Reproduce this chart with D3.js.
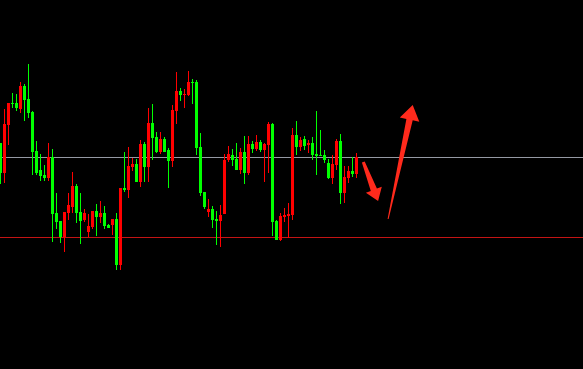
<!DOCTYPE html>
<html>
<head>
<meta charset="utf-8">
<script src="https://cdnjs.cloudflare.com/ajax/libs/d3/7.8.5/d3.min.js"></script>
<style>
    html, body { margin: 0; padding: 0; background: #000; overflow: hidden; }
    svg { display: block; }
</style>
</head>
<body>
<svg id="chart" width="583" height="369"></svg>
<script>
// candle prices (green = falling, red = rising)
var opens  = [226,196,244,266,266,260,283,270,257,218,199,194,191,212,156,148,132,156,162,183,
              157,149,137,142,158,152,156,144,144,150,104,181,179,202,205,187,225,202,246,232,
              217,230,219,208,258,278,274,274,287,287,222,177,157,160,150,148,155,209,214,210,
              199,217,196,225,220,227,219,224,245,148,129,152,153,154,234,222,230,224,226,215,
              214,214,206,191,204,228,176,191,198,195];
var highs  = [226,260,266,276,275,287,285,305,258,228,215,204,226,220,176,148,157,176,197,185,
              176,160,155,158,165,168,163,145,150,156,181,217,222,211,210,229,227,261,265,237,
              237,232,221,264,297,281,280,298,290,289,236,177,170,163,158,164,215,223,220,226,
              221,233,233,228,234,229,226,247,246,149,156,161,166,241,248,232,233,229,232,258,
              239,219,210,214,230,235,203,203,212,216];
var lows   = [185,186,224,261,258,256,248,251,194,194,188,188,188,127,140,126,117,149,156,146,
              125,147,132,140,133,146,140,141,134,99,99,177,171,198,187,182,187,187,209,216,
              215,217,181,202,245,268,261,273,265,214,173,160,152,141,124,122,155,207,203,199,
              195,185,194,216,218,217,187,196,133,129,128,147,131,149,214,218,219,216,209,194,
              213,206,190,185,199,165,166,186,192,191];
var closes = [196,245,266,265,261,283,269,256,217,196,193,191,212,155,147,132,157,164,183,156,
              148,156,143,158,152,156,143,141,150,104,181,179,203,205,187,225,202,246,231,217,
              230,217,208,259,278,274,275,287,286,221,176,162,160,149,148,154,209,215,209,199,
              217,196,225,220,227,219,225,245,147,129,153,154,155,234,222,229,223,226,214,213,
              213,209,191,205,228,176,192,198,195,212];

// horizontal levels
var levels = [212, 132];
var levelColors = ['#9599a3', '#c41414'];

// arrows: [index, price] tail -> tip
var arrows = [
    { from: [90.7, 207], to: [94.4, 168], tail: 3, neck: 6.5, head: 12, half: 8.5 },
    { from: [96.9, 150], to: [103.05, 264], tail: 1, neck: 6.5, head: 15, half: 10 }
];

var width = 583, height = 369;
var upColor = '#ff0000', downColor = '#00ff00';

var svg = d3.select('#chart');
svg.append('rect').attr('width', width).attr('height', height).attr('fill', '#000');

var x = d3.scaleLinear().domain([0, 89]).range([0.5, 356.5]);
var y = d3.scaleLinear().domain([0, 369]).range([369, 0]);

var candles = d3.range(opens.length).map(function(i) {
    return { i: i, o: opens[i], h: highs[i], l: lows[i], c: closes[i] };
});

// level lines
svg.selectAll('.level')
    .data(levels)
    .enter().append('line')
    .attr('class', 'level')
    .attr('x1', 0).attr('x2', width)
    .attr('y1', function(d) { return Math.round(y(d)) + 0.5; })
    .attr('y2', function(d) { return Math.round(y(d)) + 0.5; })
    .attr('stroke', function(d, i) { return levelColors[i]; })
    .attr('stroke-width', 1);

var g = svg.append('g').attr('shape-rendering', 'crispEdges');

// wicks
g.selectAll('.wick')
    .data(candles)
    .enter().append('rect')
    .attr('class', 'wick')
    .attr('x', function(d) { return Math.floor(x(d.i)); })
    .attr('y', function(d) { return y(d.h); })
    .attr('width', 1)
    .attr('height', function(d) { return Math.max(1, y(d.l) - y(d.h)); })
    .attr('fill', function(d) { return d.c > d.o ? upColor : downColor; });

// bodies
g.selectAll('.body')
    .data(candles)
    .enter().append('rect')
    .attr('class', 'body')
    .attr('x', function(d) { return Math.floor(x(d.i)) - 1; })
    .attr('y', function(d) { return y(Math.max(d.o, d.c)); })
    .attr('width', 3)
    .attr('height', function(d) { return Math.max(1, Math.abs(y(d.o) - y(d.c))); })
    .attr('fill', function(d) { return d.c > d.o ? upColor : downColor; });

function arrowPath(a) {
    var p0 = [x(a.from[0]), y(a.from[1])],
        p1 = [x(a.to[0]), y(a.to[1])];
    var dx = p1[0] - p0[0], dy = p1[1] - p0[1];
    var len = Math.sqrt(dx * dx + dy * dy);
    var ux = dx / len, uy = dy / len;
    var nx = -uy, ny = ux;
    var cx = p1[0] - ux * a.head, cy = p1[1] - uy * a.head;
    var pts = [
        [p0[0] + nx * a.tail / 2, p0[1] + ny * a.tail / 2],
        [cx + nx * a.neck / 2, cy + ny * a.neck / 2],
        [cx + nx * a.half, cy + ny * a.half],
        p1,
        [cx - nx * a.half, cy - ny * a.half],
        [cx - nx * a.neck / 2, cy - ny * a.neck / 2],
        [p0[0] - nx * a.tail / 2, p0[1] - ny * a.tail / 2]
    ];
    return 'M' + pts.map(function(p) { return p[0].toFixed(1) + ',' + p[1].toFixed(1); }).join('L') + 'Z';
}

svg.selectAll('.arrow')
    .data(arrows)
    .enter().append('path')
    .attr('class', 'arrow')
    .attr('d', arrowPath)
    .attr('fill', '#ff2a1c');
</script>
</body>
</html>
